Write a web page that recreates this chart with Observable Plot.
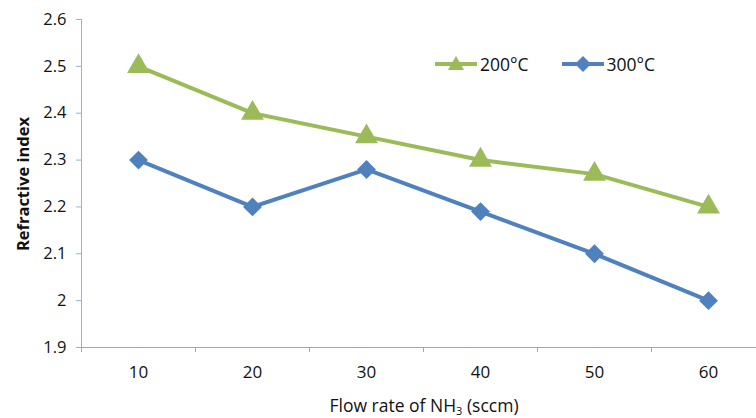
<!DOCTYPE html>
<html>
<head>
<meta charset="utf-8">
<script src="https://cdn.jsdelivr.net/npm/d3@7"></script>
<script src="https://cdn.jsdelivr.net/npm/@observablehq/plot@0.6"></script>
<style>
  html, body { margin: 0; padding: 0; background: #fff; overflow: hidden; }
  #wrap { position: relative; width: 756px; height: 418px; font-family: "Open Sans", sans-serif; color: #111; }
  #wrap svg { overflow: hidden; }
  .ytitle { position: absolute; left: 22px; top: 184px; transform: translate(-50%, -50%) rotate(-90deg); font-weight: bold; font-size: 16.5px; white-space: nowrap; }
  .xtitle { position: absolute; left: 424px; top: 405px; transform: translate(-50%, -50%); font-size: 17.5px; white-space: nowrap; }
  .xtitle sub { font-size: 11px; vertical-align: -3px; }
  .legend { position: absolute; top: 52px; left: 435px; display: flex; align-items: center; font-size: 17.5px; }
  .legend .item { display: flex; align-items: center; margin-right: 33px; }
  .legend svg { margin-right: 3px; }
</style>
</head>
<body>
<div id="wrap"></div>
<script>
const flowRates = [10, 20, 30, 40, 50, 60];
const temp200 = [2.5, 2.4, 2.35, 2.3, 2.27, 2.2];
const temp300 = [2.3, 2.2, 2.28, 2.19, 2.1, 2.0];
const seriesNames = ["200°C", "300°C"];
const seriesColors = ["#9bbb59", "#4f81bd"];
const seriesSymbols = ["triangle", "diamond2"];
const yTicks = [1.9, 2.0, 2.1, 2.2, 2.3, 2.4, 2.5, 2.6];
const xBoundaries = [5, 15, 25, 35, 45, 55, 65];

const rows = [];
[temp200, temp300].forEach((vals, s) => {
  flowRates.forEach((f, i) => rows.push({flow: f, value: vals[i], series: seriesNames[s]}));
});

const axisColor = "#8eb4e3";

const chart = Plot.plot({
  width: 756,
  height: 418,
  marginTop: 19,
  marginBottom: 71,
  marginLeft: 81,
  marginRight: 0,
  style: {fontFamily: "'Open Sans', sans-serif", fontSize: "16px", color: "#111", background: "#fff"},
  x: {type: "linear", domain: [5, 65], range: [81, 765]},
  y: {domain: [1.9, 2.6]},
  color: {domain: seriesNames, range: seriesColors},
  symbol: {domain: seriesNames, range: seriesSymbols},
  marks: [
    Plot.ruleX([5], {stroke: axisColor, strokeWidth: 1}),
    Plot.ruleY([1.9], {stroke: "#a6a6a6", strokeWidth: 1}),
    Plot.axisY({ticks: yTicks, tickSize: 5, tickPadding: 10, stroke: axisColor, strokeOpacity: 1,
      tickFormat: d => String(+d.toFixed(1)), label: null, fontSize: 16.5, fill: "#111"}),
    Plot.axisX({ticks: xBoundaries, tickSize: 5, tickFormat: () => "", stroke: "#a6a6a6", strokeOpacity: 1, label: null}),
    Plot.axisX({ticks: flowRates, tickSize: 0, tickPadding: 18, tickFormat: d => String(d), label: null, fontSize: 17, fill: "#111"}),
    Plot.line(rows, {x: "flow", y: "value", z: "series", stroke: "series", strokeWidth: 4}),
    Plot.dot(rows, {x: "flow", y: "value", symbol: "series", fill: "series", stroke: "none", r: 8.5})
  ]
});

const wrap = document.getElementById("wrap");
wrap.appendChild(chart);

const yt = document.createElement("div");
yt.className = "ytitle";
yt.textContent = "Refractive index";
wrap.appendChild(yt);

const xt = document.createElement("div");
xt.className = "xtitle";
xt.innerHTML = "Flow rate of NH<sub>3</sub> (sccm)";
wrap.appendChild(xt);

const legend = document.createElement("div");
legend.className = "legend";
seriesNames.forEach((name, i) => {
  const item = document.createElement("div");
  item.className = "item";
  const sym = i === 0
    ? `<polygon points="21,2 29,16 13,16" fill="${seriesColors[i]}"/>`
    : `<polygon points="21,2 29,10 21,18 13,10" fill="${seriesColors[i]}"/>`;
  item.innerHTML = `<svg width="42" height="20"><line x1="0" y1="10" x2="42" y2="10" stroke="${seriesColors[i]}" stroke-width="4"/>${sym}</svg><span>${name}</span>`;
  legend.appendChild(item);
});
wrap.appendChild(legend);
</script>
</body>
</html>
